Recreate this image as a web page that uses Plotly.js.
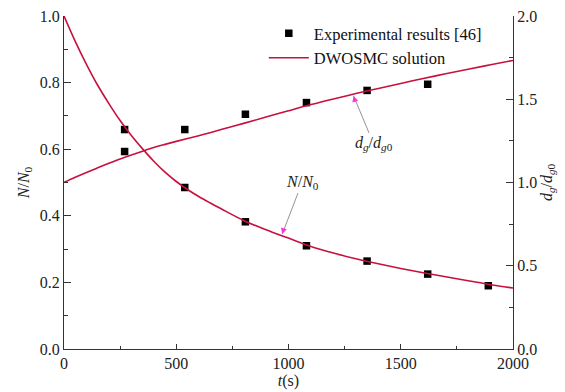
<!DOCTYPE html>
<html>
<head>
<meta charset="utf-8">
<script src="https://cdn.plot.ly/plotly-3.0.1.min.js"></script>
<style>
  html, body { margin: 0; padding: 0; background: #fff; }
  #chart { width: 565px; height: 392px; }
</style>
</head>
<body>
<div id="chart"></div>
<script>
// Experimental sampling times (s)
const expTime = [270, 538, 808, 1080, 1350, 1620, 1890];
// Experimental N/N0 (left axis)
const expN = [0.659, 0.485, 0.382, 0.310, 0.264, 0.225, 0.190];
// Experimental dg/dg0 (right axis), no value at the last time
const expDgTime = [270, 538, 808, 1080, 1350, 1620];
const expDg = [1.186, 1.318, 1.410, 1.480, 1.553, 1.590];

// DWOSMC solution curves
const simTime = [0, 50, 100, 150, 200, 250, 300, 350, 400, 450, 500, 550, 600, 650, 700,
                 800, 900, 1000, 1100, 1200, 1300, 1400, 1500, 1600, 1700, 1800, 1900, 2000];
const simN = [1.000, 0.924, 0.855, 0.792, 0.737, 0.686, 0.641, 0.601, 0.564, 0.531, 0.503,
              0.479, 0.458, 0.439, 0.421, 0.386, 0.358, 0.333, 0.308, 0.288, 0.271, 0.256,
              0.242, 0.229, 0.217, 0.205, 0.193, 0.183];
const simDg = [1.000, 1.031, 1.060, 1.088, 1.115, 1.141, 1.165, 1.188, 1.210, 1.229, 1.247,
               1.264, 1.281, 1.299, 1.318, 1.355, 1.393, 1.431, 1.468, 1.502, 1.534, 1.565,
               1.595, 1.625, 1.653, 1.680, 1.707, 1.733];

const lineColor = '#c8103e';
const serif = 'Liberation Serif, Times New Roman, serif';

const traces = [
  {
    x: expTime, y: expN, type: 'scatter', mode: 'markers',
    name: 'Experimental results [46]',
    marker: { symbol: 'square', size: 7.5, color: '#000' },
    legendrank: 1
  },
  {
    x: expDgTime, y: expDg, type: 'scatter', mode: 'markers', yaxis: 'y2',
    showlegend: false,
    marker: { symbol: 'square', size: 7.5, color: '#000' }
  },
  {
    x: simTime, y: simN, type: 'scatter', mode: 'lines',
    name: 'DWOSMC solution',
    line: { color: lineColor, width: 1.6, shape: 'spline', smoothing: 1 },
    legendrank: 2
  },
  {
    x: simTime, y: simDg, type: 'scatter', mode: 'lines', yaxis: 'y2',
    showlegend: false,
    line: { color: lineColor, width: 1.6, shape: 'spline', smoothing: 1 }
  }
];

const arrowGrey = '#777';
const arrowPink = '#ff33dd';

const layout = {
  width: 565, height: 392,
  margin: { l: 64, r: 52, t: 16, b: 43 },
  paper_bgcolor: '#fff', plot_bgcolor: '#fff',
  font: { family: serif, size: 16, color: '#222' },
  showlegend: true,
  legend: {
    x: 0.445, y: 1.0, xanchor: 'left', yanchor: 'top',
    bgcolor: 'rgba(0,0,0,0)', borderwidth: 0,
    font: { family: serif, size: 16.5, color: '#111' },
    itemwidth: 40, tracegroupgap: 0
  },
  xaxis: {
    range: [0, 2000], dtick: 500, tick0: 0,
    showline: true, linecolor: '#333', linewidth: 1, mirror: false,
    ticks: 'inside', ticklen: 5, tickcolor: '#333',
    minor: { ticks: 'inside', ticklen: 3, dtick: 250, tickcolor: '#333' },
    showgrid: false, zeroline: false,
    tickfont: { family: serif, size: 16 },
    title: { text: '<i>t</i>(s)', standoff: 0, font: { family: serif, size: 16 } }
  },
  yaxis: {
    range: [0, 1.0], dtick: 0.2, tick0: 0, tickformat: '.1f',
    showline: true, linecolor: '#333', linewidth: 1,
    ticks: 'inside', ticklen: 7, tickcolor: '#333',
    minor: { ticks: 'inside', ticklen: 4, dtick: 0.1, tickcolor: '#333' },
    showgrid: false, zeroline: false,
    tickfont: { family: serif, size: 16 },
    title: { text: '<i>N</i>/<i>N</i><sub>0</sub>', standoff: 6, font: { family: serif, size: 16 } }
  },
  yaxis2: {
    range: [0, 2.0], dtick: 0.5, tick0: 0, tickformat: '.1f',
    overlaying: 'y', side: 'right',
    showline: true, linecolor: '#333', linewidth: 1,
    ticks: 'inside', ticklen: 7, tickcolor: '#333',
    minor: { ticks: 'inside', ticklen: 4, dtick: 0.25, tickcolor: '#333' },
    showgrid: false, zeroline: false,
    tickfont: { family: serif, size: 16 },
    title: { text: '<i>d</i><sub><i>g</i></sub>/<i>d</i><sub><i>g</i>0</sub>', standoff: 4, font: { family: serif, size: 16 } }
  },
  annotations: [
    // N/N0 label with grey leader
    {
      x: 972, y: 0.345, xref: 'x', yref: 'y',
      text: '<i>N</i>/<i>N</i><sub>0</sub>', showarrow: true,
      arrowhead: 0, arrowwidth: 0.8, arrowcolor: arrowGrey,
      ax: 20, ay: -52, font: { family: serif, size: 16, color: '#222' }
    },
    // pink head of the N/N0 pointer
    {
      x: 972, y: 0.345, xref: 'x', yref: 'y', text: '', showarrow: true,
      arrowhead: 2, arrowsize: 1, arrowwidth: 1.2, arrowcolor: arrowPink,
      ax: 2, ay: -7
    },
    // dg/dg0 label with grey leader
    {
      x: 1290, y: 1.52, xref: 'x', yref: 'y2',
      text: '<i>d</i><sub><i>g</i></sub>/<i>d</i><sub><i>g</i>0</sub>', showarrow: true,
      arrowhead: 0, arrowwidth: 0.8, arrowcolor: arrowGrey,
      ax: 20, ay: 48, font: { family: serif, size: 16, color: '#222' }
    },
    // pink head of the dg/dg0 pointer
    {
      x: 1290, y: 1.52, xref: 'x', yref: 'y2', text: '', showarrow: true,
      arrowhead: 2, arrowsize: 1, arrowwidth: 1.2, arrowcolor: arrowPink,
      ax: 2, ay: 7
    }
  ]
};

Plotly.newPlot('chart', traces, layout, { staticPlot: true, displayModeBar: false });
</script>
</body>
</html>
